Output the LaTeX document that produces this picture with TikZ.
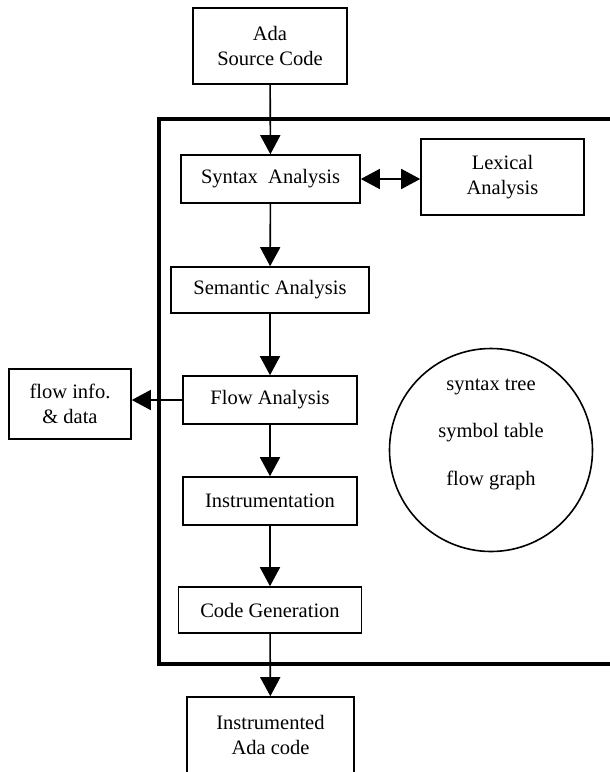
\documentclass[tikz,border=0pt]{standalone}
\usepackage{fontspec}
\setmainfont{Liberation Serif}
\usetikzlibrary{arrows.meta}

\begin{document}
\begin{tikzpicture}[x=1pt,y=-1pt,
  txt/.style={font=\fontsize{20.5}{25}\selectfont},
  block/.style={draw,line width=1.6pt,align=center,inner sep=0pt,txt},
  pass/.style={line width=1.6pt,-{Triangle[width=20pt,length=19pt]}},
  both/.style={line width=1.6pt,{Triangle[width=20pt,length=19pt]}-{Triangle[width=20pt,length=19pt]}}]
\useasboundingbox (0,0) rectangle (610,772);

\draw[line width=4pt] (625,119) -| (159,664) -- (625,664);

\node[block,minimum width=154pt,minimum height=76pt] (src) at (270,46) {Ada\\Source Code};
\node[block,minimum width=179pt,minimum height=48pt] (syn) at (270.5,179) {Syntax\ \ Analysis};
\node[block,minimum width=163pt,minimum height=76pt] (lex) at (502.5,177) {Lexical\\Analysis};
\node[block,minimum width=198pt,minimum height=46pt] (sem) at (270,290) {Semantic Analysis};
\node[block,minimum width=174pt,minimum height=48pt] (flow) at (270,400) {Flow Analysis};
\node[block,minimum width=122pt,minimum height=70pt] (info) at (70,404) {flow info.\\\& data};
\node[block,minimum width=174pt,minimum height=48pt] (instr) at (270,501) {Instrumentation};
\node[block,minimum width=183pt,minimum height=46pt] (gen) at (270,610) {Code Generation};
\node[block,minimum width=167pt,minimum height=76pt] (out) at (270.5,735) {Instrumented\\Ada code};

\node[draw,circle,line width=1.6pt,minimum size=203pt] (store) at (491,450) {};
\node[txt,anchor=base] (tree) at (491,390) {syntax tree};
\node[txt,anchor=base] (table) at (491,437) {symbol table};
\node[txt,anchor=base] (graph) at (491,485) {flow graph};

\draw[pass] (src) -- (syn);
\draw[both] (syn.east) -- (syn.east -| lex.west);
\draw[pass] (syn) -- (sem);
\draw[pass] (sem) -- (flow);
\draw[pass] (flow.west) -- (flow.west -| info.east);
\draw[pass] (flow) -- (instr);
\draw[pass] (instr) -- (gen);
\draw[pass] (gen) -- (out);
\end{tikzpicture}
\end{document}
